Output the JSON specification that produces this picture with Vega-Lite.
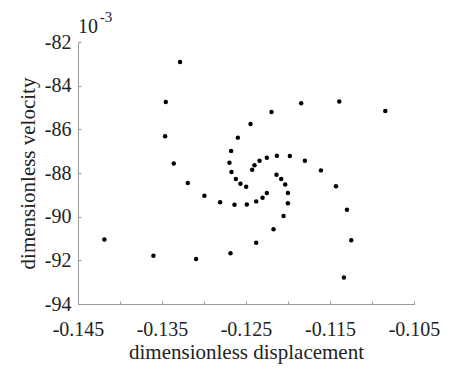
{
  "$schema": "https://vega.github.io/schema/vega-lite/v6.json",
  "width": 336,
  "height": 262,
  "autosize": {"type": "none"},
  "padding": {"left": 78, "top": 42, "right": 35, "bottom": 64},
  "background": "white",
  "config": {
    "view": {"stroke": null},
    "font": "Liberation Serif",
    "axis": {
      "grid": false,
      "domainColor": "#999999",
      "domainWidth": 1,
      "tickColor": "#999999",
      "tickWidth": 1,
      "labelFont": "Liberation Serif",
      "labelFontSize": 20,
      "labelColor": "#222222",
      "titleFont": "Liberation Serif",
      "titleFontSize": 21,
      "titleFontWeight": "normal",
      "titleColor": "#222222"
    }
  },
  "data": {
    "values": [
      {"displacement": -0.14186, "velocity": -0.09105},
      {"displacement": -0.13602, "velocity": -0.09179},
      {"displacement": -0.13094, "velocity": -0.09194},
      {"displacement": -0.12685, "velocity": -0.09168},
      {"displacement": -0.12379, "velocity": -0.09119},
      {"displacement": -0.12172, "velocity": -0.09058},
      {"displacement": -0.12053, "velocity": -0.08997},
      {"displacement": -0.12001, "velocity": -0.08939},
      {"displacement": -0.12001, "velocity": -0.08892},
      {"displacement": -0.12033, "velocity": -0.08853},
      {"displacement": -0.12081, "velocity": -0.08827},
      {"displacement": -0.12137, "velocity": -0.08808},
      {"displacement": -0.13285, "velocity": -0.08292},
      {"displacement": -0.13455, "velocity": -0.08475},
      {"displacement": -0.13463, "velocity": -0.08632},
      {"displacement": -0.13360, "velocity": -0.08756},
      {"displacement": -0.13193, "velocity": -0.08846},
      {"displacement": -0.12995, "velocity": -0.08904},
      {"displacement": -0.12808, "velocity": -0.08934},
      {"displacement": -0.12637, "velocity": -0.08945},
      {"displacement": -0.12490, "velocity": -0.08944},
      {"displacement": -0.12379, "velocity": -0.08930},
      {"displacement": -0.12303, "velocity": -0.08913},
      {"displacement": -0.12252, "velocity": -0.08892},
      {"displacement": -0.12446, "velocity": -0.08576},
      {"displacement": -0.12597, "velocity": -0.08638},
      {"displacement": -0.12677, "velocity": -0.08699},
      {"displacement": -0.12697, "velocity": -0.08753},
      {"displacement": -0.12673, "velocity": -0.08795},
      {"displacement": -0.12621, "velocity": -0.08827},
      {"displacement": -0.12566, "velocity": -0.08849},
      {"displacement": -0.12498, "velocity": -0.08863},
      {"displacement": -0.12426, "velocity": -0.08785},
      {"displacement": -0.12399, "velocity": -0.08765},
      {"displacement": -0.12339, "velocity": -0.08744},
      {"displacement": -0.12252, "velocity": -0.08730},
      {"displacement": -0.12133, "velocity": -0.08721},
      {"displacement": -0.11978, "velocity": -0.08722},
      {"displacement": -0.11799, "velocity": -0.08744},
      {"displacement": -0.11608, "velocity": -0.08788},
      {"displacement": -0.11429, "velocity": -0.08861},
      {"displacement": -0.11298, "velocity": -0.08968},
      {"displacement": -0.11247, "velocity": -0.09108},
      {"displacement": -0.11334, "velocity": -0.09279},
      {"displacement": -0.12196, "velocity": -0.08521},
      {"displacement": -0.11843, "velocity": -0.08481},
      {"displacement": -0.11390, "velocity": -0.08473},
      {"displacement": -0.10842, "velocity": -0.08516}
    ]
  },
  "layer": [
    {
      "mark": {"type": "circle", "size": 20, "opacity": 1, "color": "black"},
      "encoding": {
        "x": {
          "field": "displacement",
          "type": "quantitative",
          "title": "dimensionless displacement",
          "scale": {"domain": [-0.145, -0.105], "nice": false, "zero": false},
          "axis": {
            "values": [-0.145, -0.14, -0.135, -0.13, -0.125, -0.12, -0.115, -0.11, -0.105],
            "labelExpr": "abs(round(datum.value * 1000) % 10) == 5 ? '-' + format(abs(datum.value), '.3f') : ''",
            "labelFont": "Liberation Serif",
            "tickSize": -3,
            "labelPadding": 18,
            "titlePadding": 2,
            "labelFlush": false,
            "labelOverlap": false
          }
        },
        "y": {
          "field": "velocity",
          "type": "quantitative",
          "title": "dimensionless velocity",
          "scale": {"domain": [-0.094, -0.082], "nice": false, "zero": false},
          "axis": {
            "values": [-0.094, -0.092, -0.09, -0.088, -0.086, -0.084, -0.082],
            "labelExpr": "'-' + format(abs(datum.value) * 1000, 'd')",
            "labelFont": "Liberation Serif",
            "tickSize": -3,
            "labelPadding": 10,
            "titlePadding": 6,
            "labelFlush": false,
            "labelOverlap": false
          }
        }
      }
    },
    {
      "data": {"values": [{"exponent": "10"}]},
      "mark": {"type": "text", "fontSize": 20, "align": "left", "baseline": "alphabetic", "color": "#222222", "font": "Liberation Serif"},
      "encoding": {
        "text": {"field": "exponent"},
        "x": {"datum": -0.145},
        "y": {"datum": -0.0816}
      }
    },
    {
      "data": {"values": [{"exponent": "-3"}]},
      "mark": {"type": "text", "fontSize": 15, "align": "left", "baseline": "alphabetic", "color": "#222222", "font": "Liberation Serif"},
      "encoding": {
        "text": {"field": "exponent"},
        "x": {"datum": -0.1424},
        "y": {"datum": -0.0811}
      }
    }
  ]
}
